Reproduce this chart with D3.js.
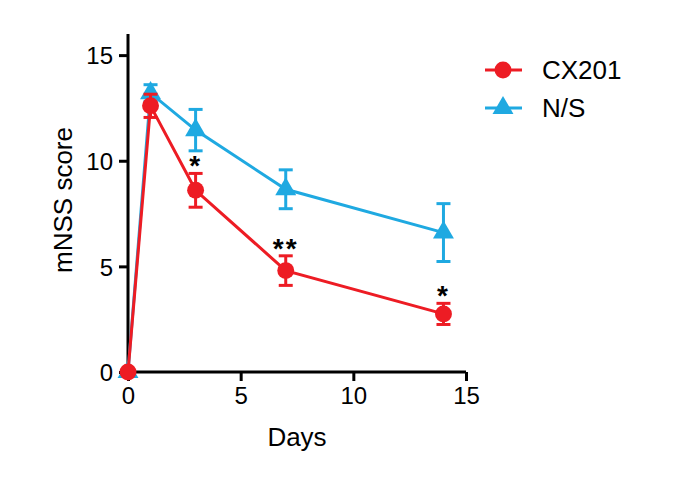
<!DOCTYPE html>
<html>
<head>
<meta charset="utf-8">
<script src="https://cdn.jsdelivr.net/npm/d3@7"></script>
<style>
  body { margin: 0; background: #fff; }
  text { font-family: Arial, "Liberation Sans", sans-serif; fill: #000; }
</style>
</head>
<body>
<div id="chart"></div>
<script>
// mNSS score over days, two groups

var days = [0, 1, 3, 7, 14];
var cxMean = [0, 12.6, 8.6, 4.8, 2.75];
var cxErr = [0, 0.55, 0.8, 0.7, 0.5];
var nsMean = [0, 13.2, 11.45, 8.65, 6.6];
var nsErr = [0, 0.4, 0.98, 0.92, 1.37];
var stars = ["", "", "*", "**", "*"];
var xTicks = [0, 5, 10, 15];
var yTicks = [0, 5, 10, 15];

var width = 683;
var height = 493;
var red = "#ed1c24";
var blue = "#1fa9e1";

var svg = d3.select("#chart")
  .append("svg")
  .attr("width", width)
  .attr("height", height);

var xScale = d3.scaleLinear().domain([0, 15]).range([128, 466]);
var yScale = d3.scaleLinear().domain([0, 16]).range([372, 34]);

// Axes
var xAxis = d3.axisBottom(xScale).tickValues(xTicks).tickSize(9).tickPadding(5);
var yAxis = d3.axisLeft(yScale).tickValues(yTicks).tickSize(9).tickPadding(6);

var gx = svg.append("g")
  .attr("transform", "translate(0," + yScale(0) + ")")
  .call(xAxis);
var gy = svg.append("g")
  .attr("transform", "translate(" + xScale(0) + ",0)")
  .call(yAxis);

[gx, gy].forEach(function(g) {
  g.select(".domain").attr("stroke", "#000").attr("stroke-width", 3)
    .attr("d", g === gx
      ? "M" + xScale(0) + ",0H" + xScale(15)
      : "M0," + yScale(16) + "V" + yScale(0));
  g.selectAll(".tick line").attr("stroke", "#000").attr("stroke-width", 3);
  g.selectAll(".tick text").attr("font-size", 24).attr("fill", "#000")
    .style("font-family", "Arial, 'Liberation Sans', sans-serif");
});
gx.selectAll(".tick text").attr("dy", "0.75em");
gy.selectAll(".tick text").attr("dy", "0.36em");

// Axis titles
svg.append("text")
  .attr("x", 297)
  .attr("y", 446)
  .attr("text-anchor", "middle")
  .attr("font-size", 26)
  .text("Days");

svg.append("text")
  .attr("transform", "translate(72,200)rotate(-90)")
  .attr("text-anchor", "middle")
  .attr("font-size", 26)
  .text("mNSS score");

function drawSeries(mean, err, color, shape) {
  var pts = days.map(function(d, i) { return { x: d, y: mean[i], e: err[i] }; });
  var line = d3.line()
    .x(function(d) { return xScale(d.x); })
    .y(function(d) { return yScale(d.y); });

  svg.append("path")
    .datum(pts)
    .attr("d", line)
    .attr("fill", "none")
    .attr("stroke", color)
    .attr("stroke-width", 3);

  // error bars
  var eb = svg.append("g").selectAll("g")
    .data(pts.filter(function(d) { return d.e > 0; }))
    .enter().append("g")
    .attr("stroke", color)
    .attr("stroke-width", 3);
  eb.append("line")
    .attr("x1", function(d) { return xScale(d.x); })
    .attr("x2", function(d) { return xScale(d.x); })
    .attr("y1", function(d) { return yScale(d.y + d.e); })
    .attr("y2", function(d) { return yScale(d.y - d.e); });
  eb.append("line")
    .attr("x1", function(d) { return xScale(d.x) - 7; })
    .attr("x2", function(d) { return xScale(d.x) + 7; })
    .attr("y1", function(d) { return yScale(d.y + d.e); })
    .attr("y2", function(d) { return yScale(d.y + d.e); });
  eb.append("line")
    .attr("x1", function(d) { return xScale(d.x) - 7; })
    .attr("x2", function(d) { return xScale(d.x) + 7; })
    .attr("y1", function(d) { return yScale(d.y - d.e); })
    .attr("y2", function(d) { return yScale(d.y - d.e); });

  var sym = d3.symbol().type(shape).size(shape === d3.symbolCircle ? 225 : 190);
  svg.append("g").selectAll("path")
    .data(pts)
    .enter().append("path")
    .attr("d", sym)
    .attr("transform", function(d) {
      return "translate(" + xScale(d.x) + "," + yScale(d.y) + ")";
    })
    .attr("fill", color);
}

drawSeries(nsMean, nsErr, blue, d3.symbolTriangle);
drawSeries(cxMean, cxErr, red, d3.symbolCircle);

// significance stars
svg.append("g").selectAll("text")
  .data(days.map(function(d, i) { return { x: d, y: cxMean[i] + cxErr[i], s: stars[i] }; }))
  .enter().append("text")
  .attr("x", function(d) { return xScale(d.x); })
  .attr("y", function(d) { return yScale(d.y) + 2; })
  .attr("text-anchor", "middle")
  .attr("font-size", 28)
  .attr("font-weight", "bold")
  .attr("letter-spacing", 2)
  .text(function(d) { return d.s; });

// Legend
var legend = [
  { name: "CX201", color: red, shape: d3.symbolCircle, y: 70 },
  { name: "N/S", color: blue, shape: d3.symbolTriangle, y: 108 }
];
var lg = svg.append("g").selectAll("g")
  .data(legend)
  .enter().append("g")
  .attr("transform", function(d) { return "translate(0," + d.y + ")"; });
lg.append("line")
  .attr("x1", 485).attr("x2", 522)
  .attr("stroke", function(d) { return d.color; })
  .attr("stroke-width", 3);
lg.append("path")
  .attr("d", function(d) {
    return d3.symbol().type(d.shape).size(d.shape === d3.symbolCircle ? 225 : 190)();
  })
  .attr("transform", "translate(503,0)")
  .attr("fill", function(d) { return d.color; });
lg.append("text")
  .attr("x", 542)
  .attr("y", 8)
  .attr("dy", "0.05em")
  .attr("font-size", 26)
  .text(function(d) { return d.name; });
</script>
</body>
</html>
